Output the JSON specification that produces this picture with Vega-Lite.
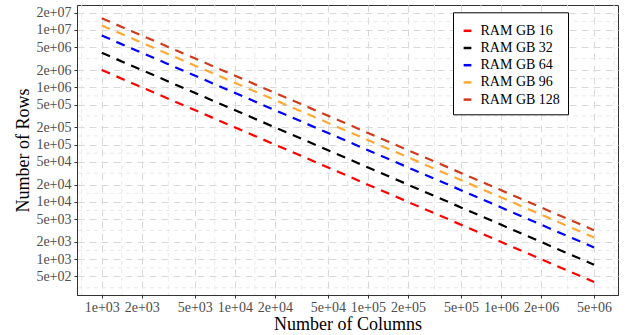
{
  "$schema": "https://vega.github.io/schema/vega-lite/v6.json",
  "width": 541,
  "height": 290,
  "autosize": {"type": "none"},
  "padding": {"left": 77, "top": 5, "right": 15, "bottom": 40},
  "background": "white",
  "config": {
    "font": "Liberation Serif",
    "view": {"stroke": "#333333", "strokeWidth": 1},
    "axis": {
      "labelFont": "Liberation Serif",
      "titleFont": "Liberation Serif",
      "labelFontSize": 14,
      "labelColor": "#4d4d4d",
      "titleFontSize": 18,
      "titleFontWeight": "normal",
      "titleColor": "black",
      "domainColor": "#333333",
      "tickColor": "#333333",
      "tickSize": 3,
      "gridColor": "#d9d9d9",
      "gridDash": [7, 5],
      "gridWidth": 1,
      "labelFlush": false,
      "labelOverlap": false
    }
  },
  "datasets": {
    "lines": [
      {"cols": 1000, "rows": 2000000, "series": "RAM GB 16"},
      {"cols": 5000000, "rows": 400, "series": "RAM GB 16"},
      {"cols": 1000, "rows": 4000000, "series": "RAM GB 32"},
      {"cols": 5000000, "rows": 800, "series": "RAM GB 32"},
      {"cols": 1000, "rows": 8000000, "series": "RAM GB 64"},
      {"cols": 5000000, "rows": 1600, "series": "RAM GB 64"},
      {"cols": 1000, "rows": 12000000, "series": "RAM GB 96"},
      {"cols": 5000000, "rows": 2400, "series": "RAM GB 96"},
      {"cols": 1000, "rows": 16000000, "series": "RAM GB 128"},
      {"cols": 5000000, "rows": 3200, "series": "RAM GB 128"}
    ],
    "xminor": [
      {"cols": 707}, {"cols": 1414}, {"cols": 3162}, {"cols": 7071}, {"cols": 14142}, {"cols": 31623}, {"cols": 70711},
      {"cols": 141421}, {"cols": 316228}, {"cols": 707107}, {"cols": 1414214}, {"cols": 3162278}, {"cols": 7071068}
    ],
    "yminor": [
      {"rows": 316}, {"rows": 707}, {"rows": 1414}, {"rows": 3162}, {"rows": 7071}, {"rows": 14142}, {"rows": 31623}, {"rows": 70711},
      {"rows": 141421}, {"rows": 316228}, {"rows": 707107}, {"rows": 1414214}, {"rows": 3162278}, {"rows": 7071068}, {"rows": 14142136}
    ]
  },
  "layer": [
    {
      "data": {"name": "xminor"},
      "mark": {"type": "rule", "color": "#e3e3e3", "strokeWidth": 0.8, "strokeDash": [4, 4]},
      "encoding": {
        "x": {
          "field": "cols", "type": "quantitative",
          "scale": {"type": "log", "domain": [652, 7570000], "nice": false},
          "axis": {
            "title": "Number of Columns",
            "values": [1000, 2000, 5000, 10000, 20000, 50000, 100000, 200000, 500000, 1000000, 2000000, 5000000],
            "labelExpr": "replace(format(datum.value, '.0e'), 'e+', 'e+0')",
            "labelPadding": 2,
            "titlePadding": 1
          }
        }
      }
    },
    {
      "data": {"name": "yminor"},
      "mark": {"type": "rule", "color": "#e3e3e3", "strokeWidth": 0.8, "strokeDash": [4, 4]},
      "encoding": {
        "y": {
          "field": "rows", "type": "quantitative",
          "scale": {"type": "log", "domain": [237, 27300000], "nice": false},
          "axis": {
            "title": "Number of Rows",
            "values": [500, 1000, 2000, 5000, 10000, 20000, 50000, 100000, 200000, 500000, 1000000, 2000000, 5000000, 10000000, 20000000],
            "labelExpr": "replace(format(datum.value, '.0e'), 'e+', 'e+0')",
            "labelPadding": 3,
            "titlePadding": 3
          }
        }
      }
    },
    {
      "data": {"name": "lines"},
      "mark": {"type": "line", "strokeWidth": 2.2, "strokeDash": [9, 7], "clip": true},
      "encoding": {
        "x": {
          "field": "cols", "type": "quantitative",
          "scale": {"type": "log", "domain": [652, 7570000], "nice": false},
          "axis": {
            "title": "Number of Columns",
            "values": [1000, 2000, 5000, 10000, 20000, 50000, 100000, 200000, 500000, 1000000, 2000000, 5000000],
            "labelExpr": "replace(format(datum.value, '.0e'), 'e+', 'e+0')",
            "labelPadding": 2,
            "titlePadding": 1
          }
        },
        "y": {
          "field": "rows", "type": "quantitative",
          "scale": {"type": "log", "domain": [237, 27300000], "nice": false},
          "axis": {
            "title": "Number of Rows",
            "values": [500, 1000, 2000, 5000, 10000, 20000, 50000, 100000, 200000, 500000, 1000000, 2000000, 5000000, 10000000, 20000000],
            "labelExpr": "replace(format(datum.value, '.0e'), 'e+', 'e+0')",
            "labelPadding": 3,
            "titlePadding": 3
          }
        },
        "color": {
          "field": "series", "type": "nominal",
          "scale": {
            "domain": ["RAM GB 16", "RAM GB 32", "RAM GB 64", "RAM GB 96", "RAM GB 128"],
            "range": ["#ff0000", "#000000", "#0000ff", "#ffa833", "#cf3a1c"]
          },
          "legend": {
            "orient": "none",
            "legendX": 376,
            "legendY": 7.3,
            "title": " ",
            "titleFontSize": 4,
            "titlePadding": 0,
            "padding": 7.5,
            "rowPadding": 3.2,
            "strokeColor": "black",
            "fillColor": "white",
            "symbolType": "stroke",
            "symbolSize": 60,
            "symbolStrokeWidth": 2.5,
            "symbolDash": [],
            "labelFont": "Liberation Serif",
            "labelFontSize": 14,
            "labelColor": "black",
            "labelOffset": 6
          }
        }
      }
    }
  ]
}
